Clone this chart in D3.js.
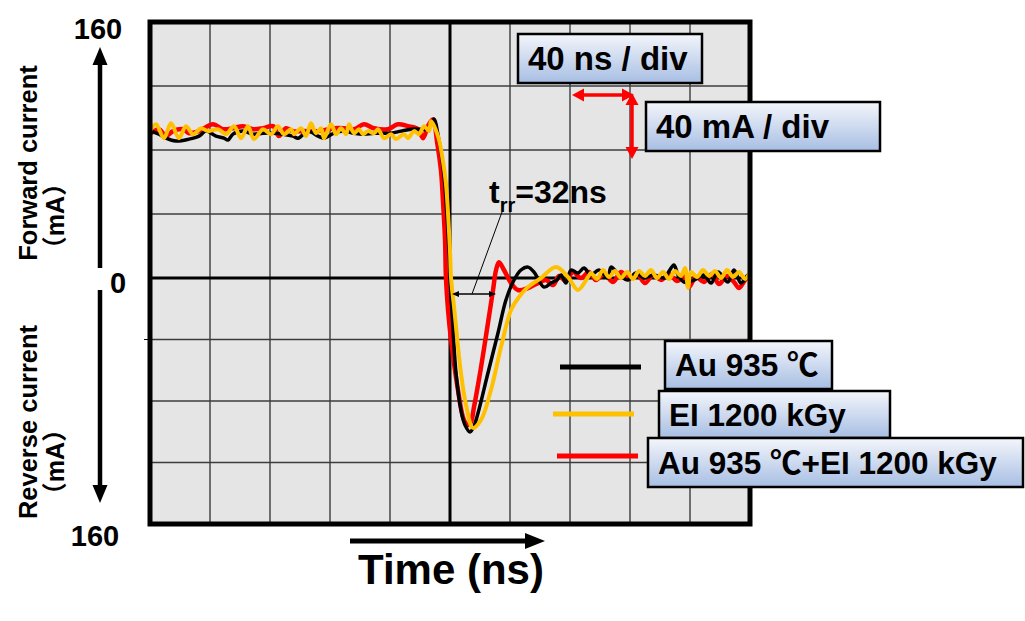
<!DOCTYPE html>
<html>
<head>
<meta charset="utf-8">
<script src="https://cdn.jsdelivr.net/npm/d3@7"></script>
<style>
  body { margin: 0; background: #fff; }
  svg text { font-family: "Liberation Sans", "Noto Sans CJK JP", sans-serif; font-weight: bold; fill: #000; }
</style>
</head>
<body>
<svg id="chart" width="1025" height="621"></svg>
<script>
// series: [time ns, current mA]
const seriesNames = ['Au 935 ℃', 'EI 1200 kGy', 'Au 935 ℃+EI 1200 kGy'];
const seriesColors = ['#000000', '#ffc000', '#ff0000'];

const auPoints = [
  [-199.3, 91.8], [-194, 89.9], [-189.3, 87.4], [-182.7, 85.6], [-174, 86.8], [-167.3, 88.7],
  [-162.7, 91.8], [-156, 88.7], [-150.7, 87.4], [-148, 86.2], [-144.7, 89.9], [-138, 91.8],
  [-131.3, 89.9], [-124.7, 90.5], [-118, 90.5], [-111.3, 89.9], [-104.7, 88.7], [-101.3, 87.4],
  [-94.7, 91.8], [-88, 88.7], [-84, 87.4], [-77.3, 90.5], [-70.7, 91.8], [-64, 90.5],
  [-57.3, 89.9], [-50.7, 90.5], [-39.3, 90.5], [-32.7, 91.8], [-26, 93], [-19.3, 93],
  [-14.7, 93], [-12.7, 96.7], [-10.7, 99.2], [-7.3, 85.6], [-4, 63.9], [-2, 39],
  [-0.7, 17.4], [0, 0], [1.3, -20.8], [4, -61.8], [7.3, -85.8], [10, -95.6],
  [13.3, -100.1], [16, -96.2], [18.7, -87.8], [25.3, -61.8], [32, -35.8], [37.3, -14.3],
  [42.7, -1.3], [47.3, 5], [52, 6.8], [56, 3.7], [62.7, -5.9], [67.3, -3.3],
  [71.3, -1.3], [74, 1.9], [77.3, -3.3], [80.7, 5], [85.3, 3.1], [89.3, 6.2],
  [94, 1.9], [99.3, 5], [105.3, 0], [107.3, 6.8], [112.7, 1.9], [118.7, -1.3],
  [124, 3.1], [129.3, 0], [136, 1.9], [142.7, 0], [145.3, 3.1], [149.3, 8.1],
  [152, 1.9], [156, -2.6], [162.7, -1.3], [169.3, 1.9], [174, -3.3], [178.7, 3.7],
  [185.3, -2.6], [189.3, 5], [194, -3.3], [198.7, 1.9], [200, 0]
];

const eiPoints = [
  [-200, 91.8], [-196, 96.1], [-190.7, 87.4], [-186, 96.7], [-180.7, 87.4], [-176, 94.9],
  [-171.3, 89.9], [-166, 93.6], [-161.3, 91.8], [-154.7, 93], [-149.3, 89.9], [-144, 94.9],
  [-139.3, 87.4], [-134.7, 94.9], [-130.7, 86.8], [-124.7, 93], [-119.3, 89.9], [-114.7, 94.9],
  [-110.7, 89.9], [-106, 93], [-104, 89.9], [-99.3, 93.6], [-96, 88.7], [-92.7, 96.7],
  [-89.3, 90.5], [-86, 93.6], [-84, 87.4], [-79.3, 96.1], [-76, 89.9], [-72.7, 93.6],
  [-69.3, 89.9], [-67.3, 96.1], [-64, 90.5], [-60.7, 93], [-58, 89.9], [-54.7, 91.8],
  [-50.7, 90.5], [-48, 93], [-44, 87.4], [-39.3, 89.9], [-36, 86.8], [-30.7, 89.9],
  [-28, 87.4], [-24, 91.8], [-20.7, 89.9], [-17.3, 94.9], [-14, 91.8], [-12.7, 98],
  [-8, 88.7], [-4.7, 73], [-2.7, 59], [0, 17], [0.7, 0], [2.7, -18.9],
  [7.3, -61.8], [10.7, -82.6], [15.3, -97.5], [20.7, -92.3], [27.3, -72.8], [34, -44.9],
  [40.7, -20.8], [46, -12.4], [52, -5.9], [60.7, 0], [70.7, 6.8], [78.7, 0.6],
  [85.3, -7.8], [92, 0.6], [94, 3.1], [98, -0.6], [102, 5], [106, 0.6],
  [110, 4.4], [114, 0], [118, 3.8], [122, -0.6], [126, 4.4], [130, 1.3],
  [134, 5], [138, 0], [142, 3.8], [146, -0.6], [150, 4.4], [154, 1.3],
  [156.7, 6.3], [158.7, -6.3], [160.7, 3.8], [164.7, 0.6], [168.7, 5], [172.7, 1.3],
  [176.7, 4.4], [180.7, 0], [184.7, 5], [188.7, 0.6], [192.7, 3.8], [196.7, -0.6], [200, 3.8]
];

const auEiPoints = [
  [-199.3, 90.5], [-194, 93], [-189.3, 88.7], [-184.7, 91.8], [-178, 93], [-174, 90.5],
  [-167.3, 91.8], [-158, 96.1], [-151.3, 93], [-144.7, 93.6], [-138, 94.9], [-131.3, 93],
  [-124.7, 93.6], [-118, 94.9], [-114, 88.7], [-109.3, 93.6], [-104.7, 91.8], [-97.3, 91.8],
  [-88, 91.8], [-77.3, 93.6], [-70.7, 93.6], [-64, 93], [-57.3, 96.1], [-50.7, 93.6],
  [-41.3, 93], [-34.7, 96.1], [-28, 94.9], [-21.3, 93], [-18, 87.4], [-14.7, 94.9],
  [-11.3, 99.2], [-8.7, 85.6], [-6, 67], [-4.7, 48.4], [-3.3, 23.6], [-2.7, 0],
  [-1.3, -20.8], [0.7, -40.3], [5.3, -72.8], [9.3, -92.3], [12, -95.6], [14, -93.6],
  [16, -83.9], [20.7, -57.9], [25.3, -29.3], [28.7, -7.8], [30.7, 5], [32.7, 9.9],
  [36, 5], [40.7, -3.3], [45.3, -7.8], [52, -6.5], [58.7, -3.3], [64, -1.3],
  [68.7, -4.6], [72.7, 1.2], [77.3, -2], [82, 3.7], [87.3, 0], [92.7, 3.7],
  [97.3, -1.3], [102.7, 2.5], [108.7, -2.6], [114, 3.7], [119.3, -0.7], [124.7, 2.5],
  [130, -3.3], [135.3, 1.9], [140.7, -1.3], [146, 2.5], [151.3, -2], [156.7, 1.2],
  [159.3, -5.9], [164, 0.6], [169.3, -2.6], [174.7, 2.5], [179.3, -3.9], [184.7, 1.2],
  [189.3, -2.6], [192.7, -6.5], [196.7, -1.3], [200, 1.9]
];

const timeTicks = [-200, -160, -120, -80, -40, 0, 40, 80, 120, 160, 200];
const currentTicks = [-160, -120, -80, -40, 0, 40, 80, 120, 160];

const svg = d3.select('#chart');

// plot frame
const x = d3.scaleLinear().domain([-200, 200]).range([150, 750]);
const y = d3.scaleLinear().domain([-160, 0, 160]).range([524, 278, 22]);

svg.append('rect')
  .attr('x', x(-200)).attr('y', y(160))
  .attr('width', x(200) - x(-200)).attr('height', y(-160) - y(160))
  .attr('fill', '#e6e5e6');

// grid
const grid = svg.append('g');
grid.selectAll('line.v').data(timeTicks.filter(t => t !== 0 && Math.abs(t) !== 200)).enter().append('line')
  .attr('x1', d => x(d)).attr('x2', d => x(d))
  .attr('y1', y(160)).attr('y2', y(-160))
  .attr('stroke', '#3c3c3c').attr('stroke-width', 1.4);
grid.selectAll('line.h').data(currentTicks.filter(v => v !== 0 && Math.abs(v) !== 160)).enter().append('line')
  .attr('x1', x(-200)).attr('x2', x(200))
  .attr('y1', d => y(d)).attr('y2', d => y(d))
  .attr('stroke', '#3c3c3c').attr('stroke-width', 1.4);

// centre cross lines
svg.append('line').attr('x1', x(0)).attr('x2', x(0)).attr('y1', y(160)).attr('y2', y(-160))
  .attr('stroke', '#000').attr('stroke-width', 3);
svg.append('line').attr('x1', x(-200)).attr('x2', x(200)).attr('y1', y(0)).attr('y2', y(0))
  .attr('stroke', '#000').attr('stroke-width', 3);

// small tick outside left
svg.append('line').attr('x1', x(-200) - 6).attr('x2', x(-200)).attr('y1', y(-40)).attr('y2', y(-40))
  .attr('stroke', '#000').attr('stroke-width', 1);

// curves
const line = d3.line().x(d => x(d[0])).y(d => y(d[1])).curve(d3.curveCatmullRom.alpha(0.5));
const drawOrder = [
  { pts: auEiPoints, color: seriesColors[2], w: 4.5 },
  { pts: auPoints, color: seriesColors[0], w: 3.5 },
  { pts: eiPoints, color: seriesColors[1], w: 4 }
];
drawOrder.forEach(s => {
  svg.append('path').datum(s.pts)
    .attr('d', line)
    .attr('fill', 'none')
    .attr('stroke', s.color)
    .attr('stroke-width', s.w)
    .attr('stroke-linejoin', 'round');
});

// frame border on top
svg.append('rect')
  .attr('x', x(-200)).attr('y', y(160))
  .attr('width', x(200) - x(-200)).attr('height', y(-160) - y(160))
  .attr('fill', 'none').attr('stroke', '#000').attr('stroke-width', 5);

// arrow helper: line with filled triangular heads
function arrow(x1, y1, x2, y2, color, w, hl, hw, both) {
  const g = svg.append('g');
  const dx = x2 - x1, dy = y2 - y1, len = Math.hypot(dx, dy);
  const ux = dx / len, uy = dy / len;
  const sx = both ? x1 + ux * hl * 0.8 : x1, sy = both ? y1 + uy * hl * 0.8 : y1;
  g.append('line').attr('x1', sx).attr('y1', sy)
    .attr('x2', x2 - ux * hl * 0.8).attr('y2', y2 - uy * hl * 0.8)
    .attr('stroke', color).attr('stroke-width', w);
  const head = (tx, ty, vx, vy) => {
    const bx = tx - vx * hl, by = ty - vy * hl;
    g.append('path')
      .attr('d', `M${tx},${ty}L${bx - vy * hw / 2},${by + vx * hw / 2}L${bx + vy * hw / 2},${by - vx * hw / 2}Z`)
      .attr('fill', color);
  };
  head(x2, y2, ux, uy);
  if (both) head(x1, y1, -ux, -uy);
}

// label boxes
const defs = svg.append('defs');
const grad = defs.append('linearGradient').attr('id', 'boxGrad').attr('x1', 0).attr('x2', 0).attr('y1', 0).attr('y2', 1);
grad.append('stop').attr('offset', '0%').attr('stop-color', '#f4f6fb');
grad.append('stop').attr('offset', '100%').attr('stop-color', '#a7bee3');

function labelBox(x0, y0, w, h, label, fs) {
  svg.append('rect').attr('x', x0).attr('y', y0).attr('width', w).attr('height', h)
    .attr('fill', 'url(#boxGrad)').attr('stroke', '#000').attr('stroke-width', 2.5);
  svg.append('text').attr('x', x0 + 10).attr('y', y0 + h / 2).attr('dy', '0.36em')
    .style('font-size', fs + 'px').text(label);
}

labelBox(518, 34, 184, 49, '40 ns / div', 33);
labelBox(646, 102, 234, 49, '40 mA / div', 33);

// scale arrows
arrow(572, 95, 634, 95, '#ff0000', 3.5, 12, 13, true);
arrow(632, 93, 632, 159, '#ff0000', 3.5, 12, 13, true);

// trr annotation
const trr = svg.append('text').attr('x', 489).attr('y', 203).style('font-size', '32px');
trr.append('tspan').text('t');
trr.append('tspan').attr('dy', 9).style('font-size', '20px').text('rr');
trr.append('tspan').attr('dy', -9).text('=32ns');
svg.append('line').attr('x1', 502).attr('y1', 212).attr('x2', 472).attr('y2', 294)
  .attr('stroke', '#000').attr('stroke-width', 1);
arrow(x(0) + 2, 294, x(30) + 1, 294, '#000', 1.3, 7, 6, true);

// legend
const legendRows = [
  { name: seriesNames[0], color: seriesColors[0], lx: 560, ly: 367, bx: 665, by: 341, bw: 167, bh: 48 },
  { name: seriesNames[1], color: seriesColors[1], lx: 553, ly: 414, bx: 659, by: 391, bw: 231, bh: 47 },
  { name: seriesNames[2], color: seriesColors[2], lx: 557, ly: 456, bx: 648, by: 438, bw: 375, bh: 49 }
];
legendRows.forEach(r => {
  svg.append('line').attr('x1', r.lx).attr('x2', r.lx + 81).attr('y1', r.ly).attr('y2', r.ly)
    .attr('stroke', r.color).attr('stroke-width', 5);
  labelBox(r.bx, r.by, r.bw, r.bh, r.name, 31.5);
});

// y-axis side labels
svg.append('text').attr('x', 98).attr('y', 39).attr('text-anchor', 'middle').style('font-size', '29px').text(currentTicks[8]);
svg.append('text').attr('x', 118).attr('y', 293).attr('text-anchor', 'middle').style('font-size', '29px').text(currentTicks[4]);
svg.append('text').attr('x', 95).attr('y', 546).attr('text-anchor', 'middle').style('font-size', '29px').text(Math.abs(currentTicks[0]));
arrow(100, 268, 100, 47, '#000', 4.5, 18, 15, false);
arrow(100, 290, 100, 503, '#000', 4.5, 18, 15, false);

function vtext(cx, cy, s, fs) {
  svg.append('text').attr('transform', `translate(${cx},${cy}) rotate(-90)`)
    .attr('text-anchor', 'middle').attr('dy', '0.36em').style('font-size', fs + 'px').text(s);
}
vtext(28, 163, 'Forward current', 25.5);
vtext(55, 216, '（mA）', 25);
vtext(28, 422, 'Reverse current', 25.5);
vtext(55, 462, '（mA）', 25);

// x-axis label
arrow(350, 541, 545, 541, '#000', 5, 20, 16, false);
svg.append('text').attr('x', 358).attr('y', 584).style('font-size', '42px').text('Time (ns)');
</script>
</body>
</html>
